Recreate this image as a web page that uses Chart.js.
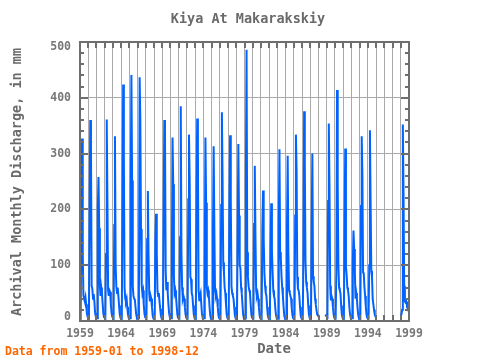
<!DOCTYPE html>
<html lang="ru">
<head>
  <meta charset="UTF-8">
  <title>Kiya At Makarakskiy</title>
  <script src="https://cdn.jsdelivr.net/npm/chart.js"></script>
  <style>
    body { margin: 0; background: #fff; }
    #graphique { display: block; }
  </style>
</head>
<body>
  <canvas id="graphique" width="480" height="360"></canvas>

  <script>
    // monthly discharge in mm, one row per year (Jan..Dec), null = no data
    const startYear = 1959;
    const flow = [
      [6, 5, 205, 327, 120, 46, 40, 35, 42, 30, 14, 8],     // 1959
      [6, 5, 200, 360, 311, 63, 58, 40, 48, 35, 15, 8],     // 1960
      [7, 5, 204, 258, 166, 63, 45, 60, 50, 32, 14, 7],     // 1961
      [6, 5, 120, 361, 218, 55, 45, 55, 52, 30, 15, 8],     // 1962
      [6, 5, 172, 331, 100, 62, 50, 60, 45, 28, 12, 6],     // 1963
      [6, 5, 221, 424, 290, 60, 40, 35, 40, 25, 12, 6],     // 1964
      [6, 5, 233, 441, 252, 62, 45, 40, 38, 25, 12, 6],     // 1965
      [6, 5, 60, 437, 361, 165, 65, 50, 55, 30, 14, 7],     // 1966
      [6, 5, 147, 233, 120, 50, 35, 45, 40, 25, 10, 5],     // 1967
      [5, 4, 147, 192, 122, 55, 45, 50, 35, 22, 10, 5],     // 1968
      [5, 4, 191, 360, 336, 90, 55, 70, 50, 30, 14, 7],     // 1969
      [6, 5, 100, 329, 245, 80, 50, 55, 45, 28, 12, 6],     // 1970
      [6, 5, 150, 385, 123, 60, 40, 45, 40, 25, 12, 6],     // 1971
      [6, 5, 218, 334, 255, 79, 75, 50, 45, 28, 12, 6],     // 1972
      [6, 5, 234, 363, 311, 55, 37, 45, 50, 30, 12, 6],     // 1973
      [6, 5, 100, 329, 212, 60, 50, 55, 45, 25, 10, 5],     // 1974
      [5, 4, 165, 313, 168, 54, 45, 50, 40, 25, 10, 5],     // 1975
      [5, 4, 208, 374, 252, 105, 87, 60, 50, 30, 12, 6],    // 1976
      [6, 5, 210, 333, 214, 63, 50, 45, 40, 25, 10, 5],     // 1977
      [5, 4, 150, 317, 189, 100, 95, 60, 50, 30, 12, 6],    // 1978
      [6, 5, 252, 486, 123, 80, 62, 55, 50, 30, 12, 6],     // 1979
      [6, 5, 174, 278, 150, 55, 45, 50, 40, 25, 10, 5],     // 1980
      [5, 4, 165, 234, 147, 87, 63, 50, 45, 25, 10, 5],     // 1981
      [5, 4, 126, 211, 126, 87, 55, 45, 40, 22, 10, 5],     // 1982
      [5, 4, 174, 308, 123, 111, 80, 60, 45, 25, 10, 5],    // 1983
      [5, 4, 171, 296, 123, 55, 50, 45, 40, 22, 10, 5],     // 1984
      [5, 4, 189, 334, 269, 79, 57, 55, 45, 25, 10, 5],     // 1985
      [5, 4, 120, 376, 278, 105, 70, 60, 50, 28, 12, 6],    // 1986
      [6, 5, 168, 300, 80, 70, 63, 40, 30, 20, 12, 10],     // 1987
      [null, null, null, null, null, null, null, null, null, null, 8, 10], // 1988
      [8, 7, 215, 354, 244, 63, 37, 45, 40, 25, 12, 6],     // 1989
      [6, 5, 90, 414, 244, 97, 60, 55, 50, 28, 12, 6],      // 1990
      [6, 5, 184, 309, 97, 83, 60, 55, 45, 25, 12, 6],      // 1991
      [6, 5, 102, 162, 129, 87, 40, 50, 40, 22, 10, 5],     // 1992
      [5, 4, 206, 331, 260, 87, 85, 60, 45, 25, 12, 6],     // 1993
      [6, 5, 100, 342, 212, 90, 80, 40, 30, 20, 12, 8],     // 1994
      [8, null, null, null, null, null, null, null, null, null, null, null], // 1995
      [null, null, null, null, null, null, null, null, null, null, null, null], // 1996
      [null, null, null, null, null, null, null, null, null, null, null, null], // 1997
      [10, 12, 20, 352, 230, 63, 35, 33, 35, 30, 33, 33]    // 1998
    ];
    const yearLabels = [1959, 1964, 1969, 1974, 1979, 1984, 1989, 1994, 1999];
    const yLabels = [0, 100, 200, 300, 400, 500];

    const points = [];
    flow.forEach((row, i) => {
      row.forEach((v, m) => points.push({ x: startYear + i + m / 12, y: v }));
    });

    const gris = "#6e6e6e";
    const mono = "'DejaVu Sans Mono', monospace";

    // frame, inward ticks, y labels and texts
    const cadre = {
      id: "cadre",
      afterDraw(chart) {
        const { ctx, chartArea: a, scales: { x, y } } = chart;
        ctx.save();
        ctx.strokeStyle = gris;
        ctx.lineWidth = 2;
        ctx.strokeRect(a.left, a.top, a.right - a.left, a.bottom - a.top);

        ctx.beginPath();
        for (let an = 1960; an < 1999; an++) {
          const px = Math.round(x.getPixelForValue(an));
          ctx.moveTo(px, a.top); ctx.lineTo(px, a.top + 6);
          ctx.moveTo(px, a.bottom); ctx.lineTo(px, a.bottom - 6);
        }
        for (let v = 20; v < 500; v += 20) {
          const py = Math.round(y.getPixelForValue(v));
          const len = v % 100 === 0 ? 8 : 4;
          ctx.moveTo(a.left, py); ctx.lineTo(a.left + len, py);
          ctx.moveTo(a.right, py); ctx.lineTo(a.right - len, py);
        }
        ctx.stroke();

        // y tick labels, kept inside the frame height like the original
        ctx.fillStyle = "#777";
        ctx.textAlign = "right";
        ctx.textBaseline = "middle";
        ctx.font = "bold 11.5px " + mono;
        yLabels.forEach(v => {
          const py = Math.min(a.bottom - 4, Math.max(a.top + 5, y.getPixelForValue(v)));
          ctx.fillText(String(v), a.left - 9, py);
        });

        ctx.fillStyle = "#6a6a6a";
        ctx.textAlign = "center";
        ctx.textBaseline = "alphabetic";
        ctx.font = "bold 13.5px " + mono;
        ctx.fillText("Kiya At Makarakskiy", 248, 23);
        ctx.font = "bold 14px " + mono;
        ctx.fillText("Date", 274, 353);

        ctx.save();
        ctx.translate(17.5, 182);
        ctx.rotate(-Math.PI / 2);
        ctx.textBaseline = "middle";
        ctx.font = "bold 13.5px " + mono;
        ctx.fillText("Archival Monthly Discharge, in mm", 0, 0);
        ctx.restore();

        ctx.fillStyle = "#ff6600";
        ctx.textAlign = "left";
        ctx.font = "bold 11.5px " + mono;
        ctx.fillText("Data from 1959-01 to 1998-12", 5, 355);
        ctx.restore();
      }
    };

    new Chart(document.getElementById("graphique"), {
      type: "line",
      data: {
        datasets: [{
          data: points,
          borderColor: "#0062ff",
          borderWidth: 2,
          pointRadius: 0,
          fill: false,
          tension: 0,
          spanGaps: false
        }]
      },
      options: {
        responsive: false,
        animation: false,
        devicePixelRatio: 1,
        layout: { padding: { top: 42, right: 71, left: 0, bottom: 0 } },
        plugins: { legend: { display: false }, tooltip: { enabled: false } },
        scales: {
          x: {
            type: "linear",
            min: 1959,
            max: 1999,
            afterFit: s => { s.height = 39; },
            grid: { color: "#aaaaaa", lineWidth: 1, drawTicks: false },
            border: { display: false },
            ticks: {
              stepSize: 1,
              maxTicksLimit: 60,
              autoSkip: false,
              maxRotation: 0,
              padding: 6,
              color: "#777",
              font: { family: mono, size: 11.5, weight: "bold" },
              callback: v => yearLabels.includes(Math.round(v)) ? String(Math.round(v)) : ""
            }
          },
          y: {
            min: 0,
            max: 500,
            afterFit: s => { s.width = 80; },
            grid: { color: "#aaaaaa", lineWidth: 1, drawTicks: false },
            border: { display: false },
            ticks: { stepSize: 100, display: false }
          }
        }
      },
      plugins: [cadre]
    });
  </script>
</body>
</html>
